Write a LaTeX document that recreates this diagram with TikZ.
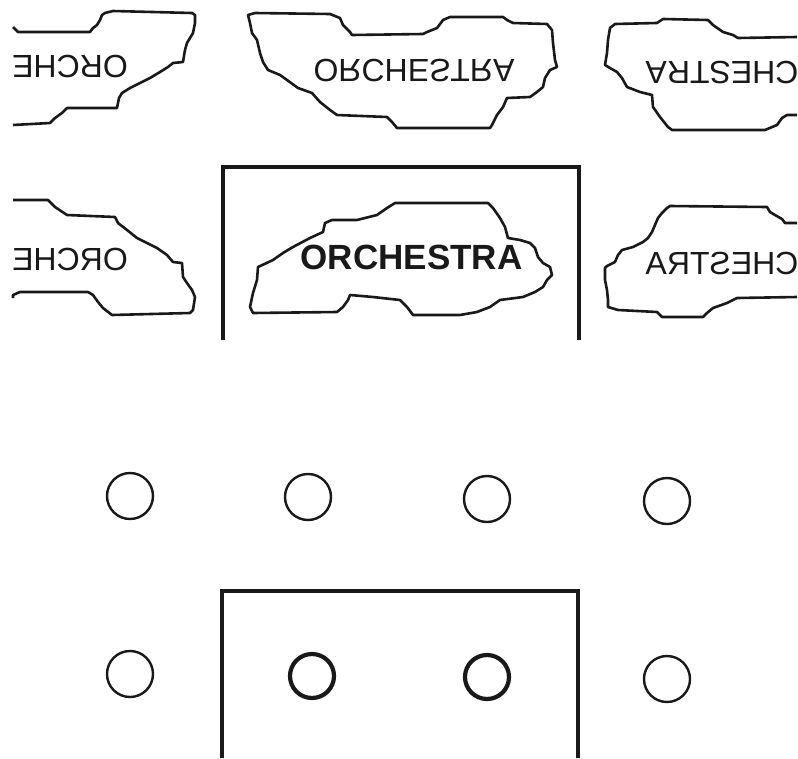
\documentclass[tikz,border=0pt]{standalone}
\usepackage{fontspec}
\setmainfont{Liberation Sans}
\usepackage{graphicx}
\begin{document}
\tikzset{
  blob/.style={draw=black!90, line width=2.6pt, line join=round},
  lbl/.style={inner sep=0pt, text=black!90, font=\fontsize{32}{32}\selectfont},
  lblbold/.style={inner sep=0pt, text=black!90, font=\fontsize{35}{35}\selectfont\bfseries},
  seat/.style={circle, draw=black!90, line width=2.4pt, minimum size=46pt, inner sep=0pt},
  seatbold/.style={seat, line width=4.2pt, minimum size=44pt},
  frame/.style={draw=black!90, line width=4pt},
}
\begin{tikzpicture}[x=1pt,y=-1pt]
\useasboundingbox (0,0) rectangle (798,758);
\fill[white] (0,0) rectangle (798,758);

% ---- top row (reflections) ----
\draw[blob] (13,27) -- (18,32) -- (90,32) -- (93,28) -- (97,25) -- (100,20) -- (102,15) -- (105,13) -- (113,11) -- (192,13) -- (195,15) -- (195,23) -- (193,33) -- (190,38) -- (187,43) -- (185,50) -- (183,62) -- (173,63) -- (168,67) -- (160,72) -- (150,78) -- (140,83) -- (130,88) -- (122,93) -- (119,98) -- (117,108) -- (67,108) -- (62,113) -- (55,118) -- (50,123) -- (13,125);
\node[lbl] (tl) at (70,66.5) {\scalebox{-1}[-1]{ORCHE}};

\draw[blob] (248,15) -- (255,13) -- (330,14) -- (340,18) -- (343,25) -- (350,32) -- (352,35) -- (423,34) -- (427,32) -- (437,28) -- (443,20) -- (450,17) -- (503,17) -- (507,20) -- (513,23) -- (547,24) -- (552,30) -- (553,43) -- (555,60) -- (557,67) -- (550,70) -- (545,78) -- (543,87) -- (537,92) -- (530,97) -- (507,98) -- (503,107) -- (497,115) -- (492,125) -- (490,128) -- (397,128) -- (392,122) -- (387,117) -- (337,115) -- (330,110) -- (320,102) -- (312,93) -- (298,88) -- (287,80) -- (280,75) -- (268,70) -- (263,62) -- (260,53) -- (257,40) -- (252,33) -- (250,23) -- cycle;
\node[lbl] (tm) at (414,70.5) {\scalebox{1}[-1]{ORCHESTRA}};

\draw[blob] (797,37) -- (738,38) -- (733,35) -- (723,32) -- (713,25) -- (708,20) -- (663,19) -- (657,23) -- (615,24) -- (610,28) -- (608,40) -- (607,53) -- (605,65) -- (610,68) -- (617,72) -- (622,78) -- (627,87) -- (640,92) -- (652,95) -- (653,107) -- (660,117) -- (668,127) -- (672,130) -- (765,130) -- (777,125) -- (782,118) -- (787,115) -- (797,115);
\node[lbl] (tr) at (722,72.5) {\scalebox{-1}[-1]{CHESTRA}};

% ---- second row ----
\draw[frame] (223,340) -- (223,167) -- (579,167) -- (579,340);

\draw[blob] (13,200) -- (48,200) -- (55,207) -- (67,215) -- (115,217) -- (118,223) -- (127,230) -- (137,238) -- (147,243) -- (157,248) -- (167,255) -- (173,262) -- (182,263) -- (183,277) -- (187,283) -- (192,290) -- (195,297) -- (193,310) -- (190,313) -- (112,315) -- (103,308) -- (98,302) -- (93,295) -- (88,292) -- (20,292) -- (13,295) -- (13,298);
\node[lbl] (ml) at (70,259) {\reflectbox{ORCHE}};

\draw[blob] (395,203) -- (488,203) -- (493,208) -- (500,218) -- (505,227) -- (508,238) -- (520,240) -- (530,243) -- (535,248) -- (538,257) -- (543,263) -- (550,267) -- (552,275) -- (547,280) -- (543,287) -- (535,292) -- (523,297) -- (500,300) -- (490,307) -- (477,312) -- (460,315) -- (413,315) -- (407,307) -- (400,300) -- (373,297) -- (350,295) -- (348,300) -- (343,307) -- (337,312) -- (253,313) -- (250,307) -- (253,293) -- (257,280) -- (258,267) -- (273,260) -- (283,253) -- (293,247) -- (310,238) -- (323,232) -- (325,223) -- (332,220) -- (357,220) -- (377,215) -- (387,208) -- cycle;
\node[lblbold] (mm) at (411.5,257.5) {ORCHESTRA};

\draw[blob] (797,223) -- (785,223) -- (782,219) -- (775,215) -- (770,212) -- (767,207) -- (670,206) -- (667,208) -- (662,213) -- (658,218) -- (655,225) -- (652,232) -- (648,238) -- (643,242) -- (633,247) -- (622,250) -- (618,255) -- (615,262) -- (607,266) -- (605,268) -- (605,280) -- (607,290) -- (608,300) -- (608,307) -- (618,310) -- (657,312) -- (662,317) -- (703,317) -- (707,313) -- (713,308) -- (727,303) -- (737,298) -- (797,297);
\node[lbl] (mr) at (722,263.5) {\reflectbox{CHESTRA}};

% ---- circles ----
\node[seat] (a1) at (130,496) {};
\node[seat] (a2) at (308,497) {};
\node[seat] (a3) at (487,499) {};
\node[seat] (a4) at (667,501) {};

\draw[frame] (222,758) -- (222,591) -- (578,591) -- (578,758);

\node[seat] (b1) at (130,674) {};
\node[seatbold] (b2) at (312,676) {};
\node[seatbold] (b3) at (487,677) {};
\node[seat] (b4) at (667,679) {};
\end{tikzpicture}
\end{document}
